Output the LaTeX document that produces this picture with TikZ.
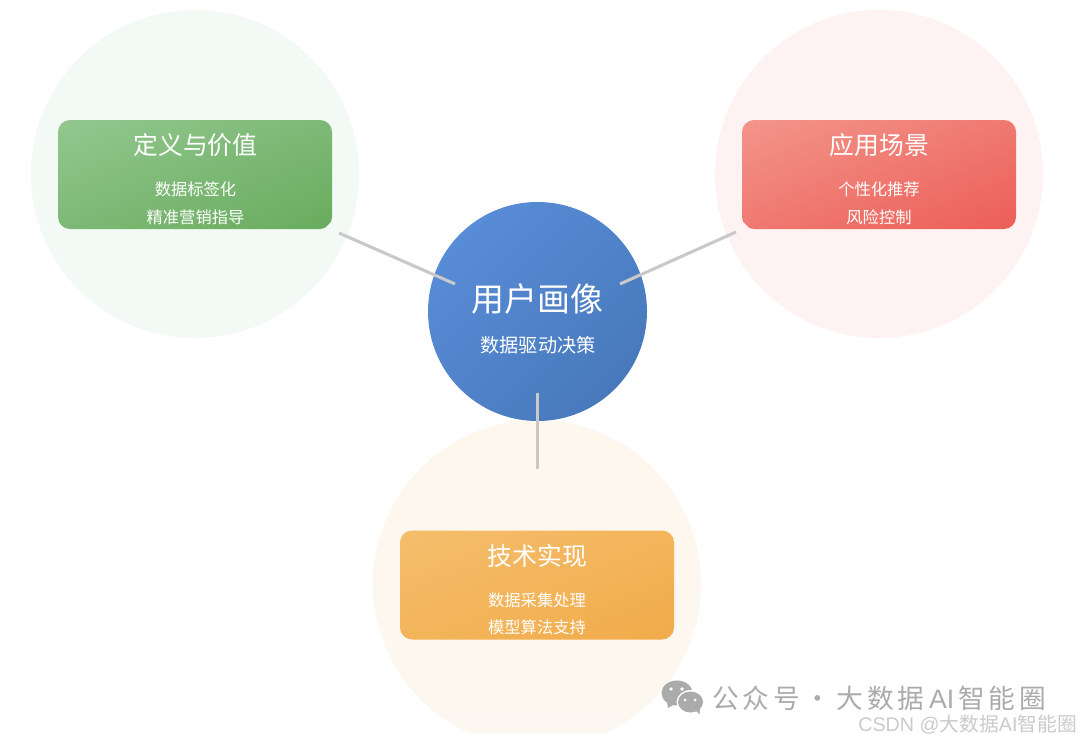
\documentclass[tikz,border=0pt]{standalone}
\usepackage{fontspec}
\setmainfont{Noto Sans CJK SC}
\setsansfont{Liberation Sans}
\definecolor{gA}{HTML}{93C78F}
\definecolor{gB}{HTML}{68AC5D}
\definecolor{rA}{HTML}{F3958B}
\definecolor{rB}{HTML}{EC5E57}
\definecolor{oA}{HTML}{F4BE6C}
\definecolor{oB}{HTML}{F2AB4A}
\definecolor{bA}{HTML}{5C90DC}
\definecolor{bB}{HTML}{4475B6}
\definecolor{linkc}{HTML}{C9C9C9}
\definecolor{wm}{HTML}{ABABAB}
\definecolor{wmb}{HTML}{CBCBCB}
\definecolor{hgc}{HTML}{F3F9F4}
\definecolor{hrc}{HTML}{FEF3F2}
\definecolor{hoa}{HTML}{FEF7ED}
\definecolor{hob}{HTML}{FCF8F1}
\pgfdeclareverticalshading{gcard}{100bp}{color(0bp)=(gB); color(33.1bp)=(gB); color(66.9bp)=(gA); color(100bp)=(gA)}
\pgfdeclareverticalshading{rcard}{100bp}{color(0bp)=(rB); color(33.1bp)=(rB); color(66.9bp)=(rA); color(100bp)=(rA)}
\pgfdeclareverticalshading{ocard}{100bp}{color(0bp)=(oB); color(33.1bp)=(oB); color(66.9bp)=(oA); color(100bp)=(oA)}
\tikzset{
  halo/.style={circle,minimum size=328*0.75pt,inner sep=0pt,draw=none},
  cardbox/.style={rounded corners=9pt,minimum width=274*0.75pt,minimum height=109*0.75pt,inner sep=0pt,draw=none,
    path picture={\shade[sharp corners,shading=#1,shading angle=21.7]
      ([xshift=-150*0.75pt,yshift=-150*0.75pt]path picture bounding box.center)
      rectangle ([xshift=150*0.75pt,yshift=150*0.75pt]path picture bounding box.center);}},
  hubdisc/.style={circle,minimum size=219*0.75pt,inner sep=0pt,draw=none,
    path picture={\shade[top color=bA,bottom color=bB,shading angle=45]
      ([xshift=-155*0.75pt,yshift=-155*0.75pt]path picture bounding box.center)
      rectangle ([xshift=155*0.75pt,yshift=155*0.75pt]path picture bounding box.center);}},
  cardhead/.style={text=white,font=\fontsize{18.6pt}{20pt}\selectfont,inner sep=0pt},
  cardline/.style={text=white,font=\fontsize{12.2pt}{14pt}\selectfont,inner sep=0pt},
  linkline/.style={draw=linkc,line width=2.3pt},
  wmtext/.style={text=wm,inner sep=0pt,anchor=west}
}
\begin{document}
\begin{tikzpicture}[x=0.75pt,y=-0.75pt]
\useasboundingbox (0,0) rectangle (1080,742);
\fill[white] (0,0) rectangle (1080,742);
\begin{scope}
\clip (0,0) rectangle (1080,733.5);
\node[halo,fill=hgc] (hg) at (195,174) {};
\node[halo,fill=hrc] (hr) at (879,174) {};
\node[halo,top color=hoa,bottom color=hob] (ho) at (537,584) {};
\end{scope}
\node[hubdisc] (hub) at (537.5,311.5) {};
\node[cardbox=gcard] (cg) at (195,174.5) {};
\node[cardbox=rcard] (cr) at (879,174.5) {};
\node[cardbox=ocard] (co) at (537,585) {};
\fill[hgc] (333,220) -- (333,230) -- (323,230) -- cycle;
\fill[hrc] (741,220) -- (741,230) -- (751,230) -- cycle;
\node[cardhead] (tg) at (195.5,145) {定义与价值};
\node[cardline] (g1) at (195.5,189) {数据标签化};
\node[cardline] (g2) at (195.5,217) {精准营销指导};
\node[cardhead] (tr) at (879.5,145) {应用场景};
\node[cardline] (r1) at (879,189) {个性化推荐};
\node[cardline] (r2) at (879,217) {风险控制};
\node[cardhead] (to) at (537.5,556) {技术实现};
\node[cardline] (o1) at (537,600) {数据采集处理};
\node[cardline] (o2) at (537,627) {模型算法支持};
\node[text=white,inner sep=0pt,font=\fontsize{24.7pt}{26pt}\selectfont] (th) at (537.5,299) {用户画像};
\node[text=white,inner sep=0pt,font=\fontsize{14.4pt}{16pt}\selectfont] (sh) at (538,345) {数据驱动决策};
\coordinate (a1) at (339,233); \coordinate (a2) at (455,284);
\coordinate (b1) at (736,232); \coordinate (b2) at (620,284);
\coordinate (c1) at (537.2,393); \coordinate (c2) at (537.2,469);
\draw[linkline] (a1) -- (a2);
\draw[linkline] (b1) -- (b2);
\draw[linkline] (c1) -- (c2);
% watermark icon
\fill[wm] (677,693) ellipse [x radius=15.5,y radius=12.5];
\fill[wm] (667,702) -- (668,708) -- (675,704) -- cycle;
\fill[white] (690.5,702) ellipse [x radius=14,y radius=12];
\fill[wm] (690.5,702) ellipse [x radius=12.5,y radius=10.5];
\fill[wm] (695,710) -- (699.5,714.5) -- (700,708) -- cycle;
\fill[white] (671,689) circle (1.8);
\fill[white] (682,689) circle (1.8);
\fill[white] (685,700) circle (1.5);
\fill[white] (695,700) circle (1.5);
\node[wmtext,font=\fontsize{20pt}{22pt}\selectfont\addfontfeature{LetterSpace=14}] (w1) at (712,698) {公众号\hspace{-3.4pt} · \hspace{-3.4pt}大数据\hspace{0.8pt}\textsf{AI}\hspace{3pt}智能圈};
\node[text=wmb,inner sep=0pt,anchor=east,font=\fontsize{14.8pt}{16pt}\selectfont] (w2) at (1077,725) {\textsf{CSDN @}大数据\textsf{AI}智能圈};
\end{tikzpicture}
\end{document}
